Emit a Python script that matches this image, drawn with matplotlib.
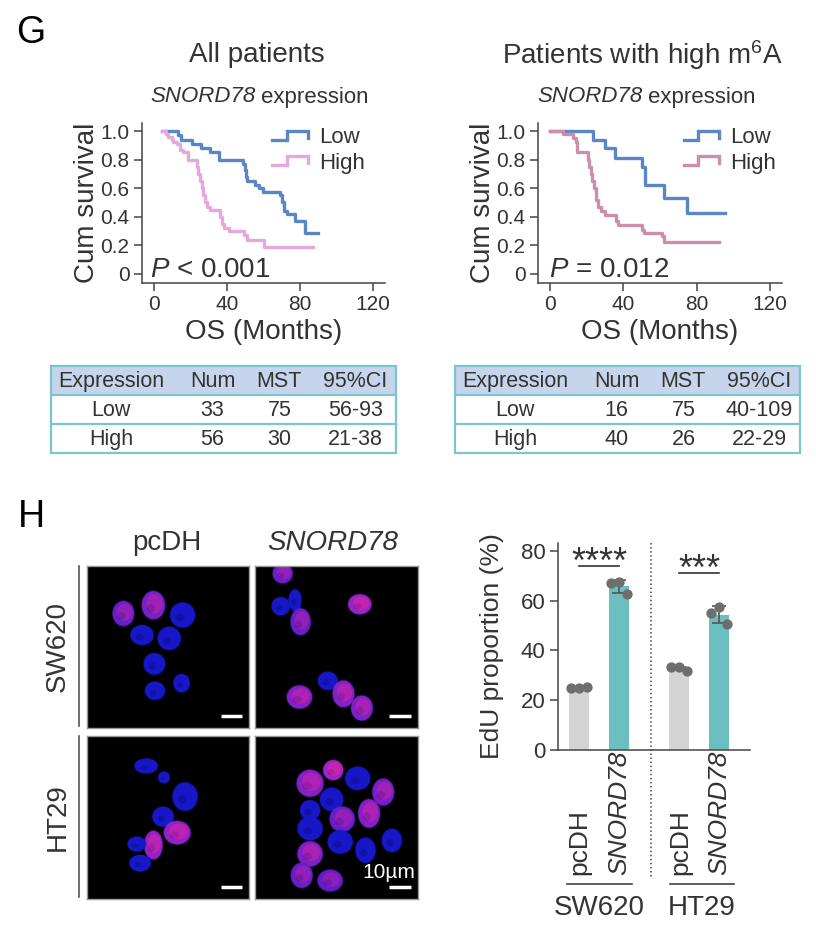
import numpy as np
import matplotlib
matplotlib.use("Agg")
import matplotlib.pyplot as plt
from matplotlib.patches import Ellipse, Rectangle
from matplotlib.lines import Line2D
from matplotlib.legend_handler import HandlerBase

plt.rcParams['font.family'] = ['Liberation Sans', 'DejaVu Sans']
plt.rcParams['mathtext.fontset'] = 'custom'
plt.rcParams['mathtext.rm'] = 'Liberation Sans'
plt.rcParams['mathtext.it'] = 'Liberation Sans:italic'
plt.rcParams['mathtext.default'] = 'regular'
TXT = '#333333'
plt.rcParams['text.color'] = TXT
plt.rcParams['axes.labelcolor'] = TXT
plt.rcParams['xtick.color'] = TXT
plt.rcParams['ytick.color'] = TXT

# ---- KM data ----
km1_low_t = [4.6, 13, 15, 20.6, 26, 30.5, 35.4, 49, 50, 50.5, 51, 55.5, 57.5, 59.5, 69, 70, 71, 73, 77.5, 82.5]
km1_low_s = [1.0, 0.97, 0.94, 0.91, 0.88, 0.85, 0.80, 0.77, 0.73, 0.68, 0.65, 0.62, 0.60, 0.57, 0.55, 0.50, 0.44, 0.42, 0.37, 0.29]
km1_low_end = 90
km1_high_t = [4.6, 6.5, 7.8, 9.6, 10.5, 12.7, 14.2, 16, 18.8, 23.4, 24.3, 25.2, 26.2, 27.1, 28, 29, 30.8, 36.3, 37.2, 38.2, 41, 49.2, 51, 60.2]
km1_high_s = [1.0, 0.98, 0.96, 0.94, 0.92, 0.91, 0.87, 0.85, 0.80, 0.75, 0.70, 0.65, 0.60, 0.55, 0.50, 0.47, 0.45, 0.40, 0.35, 0.32, 0.30, 0.27, 0.24, 0.19]
km1_high_end = 87

km2_low_t = [0, 23.6, 30, 35.5, 50, 51.8, 62, 74.5]
km2_low_s = [1.0, 0.94, 0.88, 0.81, 0.75, 0.62, 0.53, 0.43]
km2_low_end = 95.5
km2_high_t = [0, 7.3, 12.7, 14, 14.5, 20.5, 21.5, 22.2, 23, 24, 25, 26, 28, 30, 36, 37.3, 50, 51, 61, 62]
km2_high_s = [1.0, 0.98, 0.95, 0.925, 0.85, 0.80, 0.75, 0.70, 0.65, 0.60, 0.52, 0.47, 0.44, 0.41, 0.37, 0.345, 0.31, 0.29, 0.265, 0.225]
km2_high_end = 92

groups = ['Low', 'High']
tab_header = ['Expression', 'Num', 'MST', '95%CI']
tab1_rows = [['Low', '33', '75', '56-93'], ['High', '56', '30', '21-38']]
tab2_rows = [['Low', '16', '75', '40-109'], ['High', '40', '26', '22-29']]

# ---- EdU data ----
bar_labels = ['pcDH', 'SNORD78', 'pcDH', 'SNORD78']
cell_lines = ['SW620', 'HT29']
edu_values = [[24.8, 25.0, 25.1], [67.0, 67.4, 62.7], [33.2, 33.2, 31.9], [55.0, 57.4, 50.7]]
sig_marks = ['****', '***']

W, H = 816, 946
fig = plt.figure(figsize=(W / 100, H / 100), dpi=100)


def box(x0, y0, x1, y1):
    return [x0 / W, 1 - y1 / H, (x1 - x0) / W, (y1 - y0) / H]


def ftext(x, y, s, **kw):
    fig.text(x / W, 1 - y / H, s, **kw)


class StepHandler(HandlerBase):
    def create_artists(self, legend, orig_handle, xdescent, ydescent, width, height, fontsize, trans):
        xs = np.array([0, 0.4, 0.4, 1.0, 1.0]) * width - xdescent
        ys = np.array([0.2, 0.2, 0.8, 0.8, 0.35]) * height - ydescent
        ln = Line2D(xs, ys, color=orig_handle.get_color(), lw=orig_handle.get_linewidth(),
                    solid_joinstyle='miter')
        ln.set_transform(trans)
        return [ln]


def km_plot(rect, curves, colors, ptext, pt_x, leg_x):
    ax = fig.add_axes(rect)
    handles = []
    for (t, s, end), c in zip(curves, colors):
        ax.step(list(t) + [end], list(s) + [s[-1]], where='post', color=c, lw=2.4)
        handles.append(Line2D([], [], color=c, lw=2.4))
    ax.set_xlim(-6.6, 126.6)
    ax.set_ylim(-0.063, 1.056)
    ax.set_xticks([0, 40, 80, 120])
    ax.set_yticks([0, 0.2, 0.4, 0.6, 0.8, 1.0])
    ax.set_yticklabels(['0', '0.2', '0.4', '0.6', '0.8', '1.0'])
    for sp in ['top', 'right']:
        ax.spines[sp].set_visible(False)
    for sp in ['left', 'bottom']:
        ax.spines[sp].set_color('#444444')
        ax.spines[sp].set_linewidth(1.1)
    ax.tick_params(labelsize=15, length=6, width=1.1, color='#444444', pad=3)
    ax.set_xlabel('OS (Months)', fontsize=20, labelpad=3)
    ax.set_ylabel('Cum survival', fontsize=20, labelpad=0)
    ax.text(pt_x, -0.02, ptext, fontsize=20, ha='left', va='baseline')
    ax.legend(handles, groups, handler_map={Line2D: StepHandler()}, frameon=False,
              loc='upper left', bbox_to_anchor=(leg_x, 1.03), fontsize=16,
              handlelength=1.6, handletextpad=0.5, labelspacing=0.2, borderaxespad=0)
    return ax


BLUE = '#5a86c6'
km_plot(box(142, 123, 385, 283),
        [(km1_low_t, km1_low_s, km1_low_end), (km1_high_t, km1_high_s, km1_high_end)],
        [BLUE, '#e4a8de'], r'$\mathit{P}$ < 0.001', -2.2, 0.5)
km_plot(box(538, 123, 782, 283),
        [(km2_low_t, km2_low_s, km2_low_end), (km2_high_t, km2_high_s, km2_high_end)],
        [BLUE, '#cc8ea8'], r'$\mathit{P}$ = 0.012', -0.5, 0.56)

ftext(31, 33, 'G', fontsize=27, color='black', ha='center', va='center')
ftext(31, 517, 'H', fontsize=27, color='black', ha='center', va='center')
ftext(257, 55, 'All patients', fontsize=20, ha='center', va='center')
ftext(642, 55, r'Patients with high m$^{6}$A', fontsize=20, ha='center', va='center')
# subtitle: italic gene name + plain word
for xs in [256, 643]:
    ftext(xs, 97, 'SNORD78', fontsize=16, style='italic', ha='right', va='center')
    ftext(xs + 5, 97, 'expression', fontsize=16, ha='left', va='center')


# ---- tables ----
def draw_table(rect, rows):
    ax = fig.add_axes(rect)
    ax.set_xlim(0, 1)
    ax.set_ylim(3, 0)
    ax.axis('off')
    edge = '#7cc4d2'
    ax.add_patch(Rectangle((0, 0), 1, 1, facecolor='#c6d5ec', edgecolor='none'))
    ax.add_patch(Rectangle((0, 0), 1, 3, facecolor='none', edgecolor=edge, lw=1.6, clip_on=False))
    for yy in [1, 2]:
        ax.plot([0, 1], [yy, yy], color=edge, lw=1.6)
    cols = [0.175, 0.468, 0.662, 0.882]
    for j, h in enumerate(tab_header):
        ax.text(cols[j], 0.52, h, fontsize=15.5, ha='center', va='center')
    for i, r in enumerate(rows):
        for j, v in enumerate(r):
            ax.text(cols[j], i + 1.52, v, fontsize=15.5, ha='center', va='center')


draw_table(box(51, 366, 396, 453), tab1_rows)
draw_table(box(455, 366, 800, 453), tab2_rows)

# ---- microscopy panels (schematic nuclei: cx, cy, w, h, magenta level) ----
cells_tl = [(0.225, 0.293, 0.133, 0.154, 0.6), (0.41, 0.242, 0.143, 0.174, 0.7),
            (0.59, 0.303, 0.154, 0.154, 0.0), (0.34, 0.426, 0.143, 0.123, 0.0),
            (0.508, 0.447, 0.143, 0.143, 0.0), (0.416, 0.604, 0.133, 0.133, 0.0),
            (0.42, 0.77, 0.123, 0.113, 0.0), (0.584, 0.723, 0.102, 0.113, 0.0)]
cells_tr = [(0.17, 0.047, 0.123, 0.12, 0.6), (0.158, 0.248, 0.113, 0.113, 0.0),
            (0.246, 0.211, 0.08, 0.133, 0.0), (0.28, 0.344, 0.123, 0.164, 0.6),
            (0.643, 0.236, 0.143, 0.123, 0.95), (0.447, 0.709, 0.123, 0.113, 0.0),
            (0.273, 0.809, 0.154, 0.143, 0.8), (0.543, 0.789, 0.133, 0.164, 0.8),
            (0.656, 0.877, 0.133, 0.154, 0.75)]
cells_bl = [(0.365, 0.184, 0.143, 0.092, 0.0), (0.475, 0.254, 0.072, 0.072, 0.0),
            (0.605, 0.372, 0.154, 0.174, 0.0), (0.47, 0.495, 0.133, 0.123, 0.0),
            (0.557, 0.593, 0.164, 0.143, 0.9), (0.41, 0.669, 0.113, 0.174, 0.9),
            (0.307, 0.663, 0.113, 0.092, 0.0), (0.328, 0.78, 0.133, 0.102, 0.0)]
cells_br = [(0.338, 0.29, 0.164, 0.164, 0.8), (0.48, 0.209, 0.123, 0.123, 1.0),
            (0.63, 0.26, 0.154, 0.143, 0.0), (0.787, 0.344, 0.133, 0.164, 0.7),
            (0.47, 0.389, 0.143, 0.143, 0.0), (0.338, 0.455, 0.123, 0.123, 0.0),
            (0.535, 0.51, 0.154, 0.154, 0.6), (0.7, 0.475, 0.133, 0.174, 0.8),
            (0.338, 0.568, 0.154, 0.143, 0.0), (0.523, 0.65, 0.154, 0.143, 0.0),
            (0.678, 0.701, 0.123, 0.154, 0.0), (0.338, 0.723, 0.154, 0.154, 0.75),
            (0.287, 0.855, 0.133, 0.154, 0.6), (0.461, 0.887, 0.154, 0.133, 0.55),
            (0.84, 0.641, 0.123, 0.143, 0.0)]


def micro(rect, cells, label=None):
    ax = fig.add_axes(rect)
    ax.set_facecolor('black')
    ax.set_xlim(0, 1)
    ax.set_ylim(1, 0)
    ax.set_xticks([])
    ax.set_yticks([])
    for sp in ax.spines.values():
        sp.set_color('#999999')
        sp.set_linewidth(1.0)
    blue = np.array([0.09, 0.09, 0.78])
    purple = np.array([0.62, 0.14, 0.78])
    for cx, cy, w, h, m in cells:
        body = blue * (1 - m) + purple * m
        ax.add_patch(Ellipse((cx, cy), w * 1.08, h * 1.08, color=body, alpha=0.3, lw=0))
        ax.add_patch(Ellipse((cx, cy), w, h, color=body, lw=0))
        ax.add_patch(Ellipse((cx - 0.1 * w, cy + 0.1 * h), w * 0.35, h * 0.3,
                             color=(0.03, 0.03, 0.45), alpha=0.35, lw=0))
        if m > 0:
            ax.add_patch(Ellipse((cx + 0.05 * w, cy - 0.05 * h), w * 0.7, h * 0.68,
                                 color='#e8259f', alpha=0.55 * m, lw=0))
    ax.plot([0.825, 0.955], [0.925, 0.925], color='white', lw=2.5, solid_capstyle='butt')
    if label:
        ax.text(0.82, 0.835, label, color='white', fontsize=15, ha='center', va='center')


micro(box(87, 566, 249, 728), cells_tl)
micro(box(255, 566, 418, 728), cells_tr)
micro(box(87, 736, 249, 899), cells_bl)
micro(box(255, 736, 418, 899), cells_br, '10µm')

ftext(167, 543, 'pcDH', fontsize=20, ha='center', va='center')
ftext(333, 543, 'SNORD78', fontsize=20, style='italic', ha='center', va='center')
ftext(58, 647, cell_lines[0], fontsize=20, rotation=90, ha='center', va='center')
ftext(58, 817, cell_lines[1], fontsize=20, rotation=90, ha='center', va='center')
for y0, y1 in [(566, 726), (736, 897)]:
    fig.add_artist(Line2D([79 / W, 79 / W], [1 - y0 / H, 1 - y1 / H], color='#555555', lw=1.2))

# ---- EdU bar chart ----
ax = fig.add_axes(box(558, 543, 750, 750))
pos = np.array([0, 1, 2.5, 3.5])
vals = np.array(edu_values)
means = vals.mean(axis=1)
sds = vals.std(axis=1, ddof=1)
ax.bar(pos, means, width=0.5, color=['#d4d4d4', '#6bbfbf', '#d4d4d4', '#6bbfbf'], zorder=1)
ax.errorbar(pos, means, yerr=sds, fmt='none', ecolor='#555555', elinewidth=1.2, capsize=5, capthick=1.2, zorder=2)
for p, v in zip(pos, vals):
    ax.scatter(p + np.array([-0.2, 0, 0.2]), v, s=55, color='#6e6e6e', zorder=3, lw=0)
ax.set_xlim(-0.525, 4.275)
ax.set_ylim(0, 83.1)
ax.set_xticks([])
ax.set_yticks([0, 20, 40, 60, 80])
for sp in ['top', 'right']:
    ax.spines[sp].set_visible(False)
for sp in ['left', 'bottom']:
    ax.spines[sp].set_color('#444444')
    ax.spines[sp].set_linewidth(1.1)
ax.tick_params(axis='y', labelsize=16, length=6, width=1.1, color='#444444', pad=3)
ax.set_ylabel('EdU proportion (%)', fontsize=19, labelpad=12)
ax.plot([1.8, 1.8], [83.1, -51.4], ls=':', color='#444444', lw=1.1, clip_on=False)
for (a, b), mark, yl in zip([(0, 1), (2.5, 3.5)], sig_marks, [73.9, 71.1]):
    ax.plot([a, b], [yl, yl], color='#333333', lw=1.2)
    ax.text((a + b) / 2, yl - 3.0, mark, fontsize=26, ha='center', va='baseline')

bar_px = [579, 619, 680, 719]
for x, lab in zip(bar_px, bar_labels):
    ftext(x, 875, lab, fontsize=19, rotation=90, ha='center', va='bottom',
          style='italic' if lab == 'SNORD78' else 'normal')
for (x0, x1), name in zip([(567, 632), (670, 734)], cell_lines):
    fig.add_artist(Line2D([x0 / W, x1 / W], [1 - 884 / H, 1 - 884 / H], color='#444444', lw=1.2))
    ftext((x0 + x1) / 2, 908, name, fontsize=20, ha='center', va='center')

fig.savefig('out.png', dpi=100)
